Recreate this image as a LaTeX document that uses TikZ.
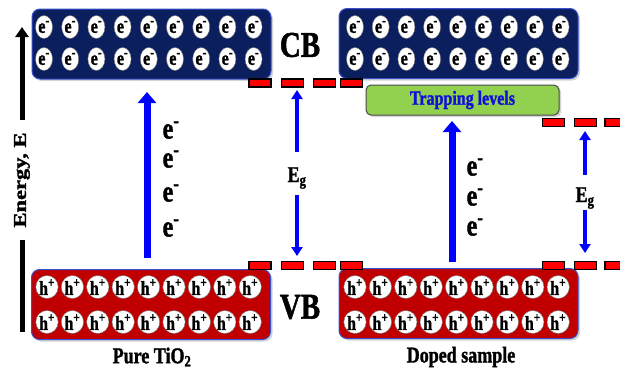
\documentclass[tikz,border=0pt]{standalone}
\usepackage{fontspec}
\setmainfont{Liberation Serif}[BoldFeatures={FakeBold=1.6}]
\usetikzlibrary{arrows.meta,shadows,shapes.geometric}
\definecolor{cbnavy}{HTML}{0B1F5E}
\definecolor{vbred}{HTML}{C00000}
\definecolor{bandedge}{HTML}{3A4FD0}
\definecolor{trapgreen}{HTML}{92D050}
\definecolor{trapedge}{HTML}{4A4A4A}
\definecolor{arrowblue}{HTML}{0000FF}
\definecolor{traptext}{HTML}{1010D8}
% glyphs in this figure are drawn somewhat taller than wide
\newcommand{\tall}[1]{\scalebox{1}[1.25]{#1}}
\newcommand{\fsz}[1]{\bfseries\fontsize{#1}{#1}\selectfont}

\begin{document}
\begin{tikzpicture}[x=1pt,y=-1pt,
  band/.style={draw=bandedge, line width=1pt, rounded corners=8pt,
    minimum width=239pt, minimum height=70pt, inner sep=0pt,
    drop shadow={shadow xshift=2pt,shadow yshift=-2pt,opacity=0.35}},
  cbband/.style={band, fill=cbnavy},
  vbband/.style={band, fill=vbred},
  carrier/.style={ellipse, fill=white, draw=black!55, line width=0.4pt,
    minimum width=17pt, minimum height=23pt, inner sep=0pt, font=\fsz{16}},
  dashbar/.style={draw=black, line width=1.3pt, fill=red,
    minimum width=22pt, minimum height=8pt, inner sep=0pt},
  bigarrow/.style={draw=arrowblue, line width=7pt,
    -{Triangle[width=18pt,length=11pt]}},
  egarrow/.style={draw=arrowblue, line width=4pt,
    -{Triangle[width=11pt,length=9pt]}},
  axisline/.style={draw=black, line width=5pt},
  biglabel/.style={font=\fsz{29}, inner sep=0pt},
  caption/.style={font=\fsz{18}, inner sep=0pt},
  elabel/.style={font=\fsz{24}, inner sep=0pt},
  eglabel/.style={font=\fsz{18}, inner sep=0pt}
]
\useasboundingbox (0,0) rectangle (620,376);

% ---- bands ----
\node[cbband] (cbL) at (151.5,44) {};
\node[cbband] (cbR) at (458.5,43.5) {};
\node[vbband] (vbL) at (151,304.5) {};
\node[vbband] (vbR) at (458.5,303.5) {};

% electrons in the conduction bands
\foreach \i in {0,...,8} {
  \node[carrier] (eLa\i) at (44+26.2*\i,27) {\tall{e\textsuperscript{-}}};
  \node[carrier] (eLb\i) at (44+26.2*\i,59) {\tall{e\textsuperscript{-}}};
  \node[carrier] (eRa\i) at (355+25.7*\i,27) {\tall{e\textsuperscript{-}}};
  \node[carrier] (eRb\i) at (355+25.7*\i,59) {\tall{e\textsuperscript{-}}};
}
% holes in the valence bands
\foreach \i in {0,...,8} {
  \node[carrier] (hLa\i) at (47+25.4*\i,287) {\tall{h\textsuperscript{+}}};
  \node[carrier] (hLb\i) at (47+25.4*\i,322) {\tall{h\textsuperscript{+}}};
  \node[carrier] (hRa\i) at (355+25.4*\i,287) {\tall{h\textsuperscript{+}}};
  \node[carrier] (hRb\i) at (355+25.4*\i,322) {\tall{h\textsuperscript{+}}};
}

% ---- trapping levels ----
\node[draw=trapedge, line width=1pt, fill=trapgreen, rounded corners=5pt,
      minimum width=193pt, minimum height=30pt, inner sep=0pt,
      drop shadow={shadow xshift=2pt,shadow yshift=-2pt,opacity=0.35},
      font=\fsz{16}, text=traptext] (trap) at (462.5,100) {\tall{Trapping levels}};

% ---- band-edge dashes ----
\foreach \x [count=\k] in {260,292.5,324.5,351.5} {
  \node[dashbar] (cdL\k) at (\x,83) {};
  \node[dashbar] (vdL\k) at (\x,265.5) {};
}
\foreach \x [count=\k] in {553.5,585.5,616} {
  \node[dashbar] (cdR\k) at (\x,122.5) {};
  \node[dashbar] (vdR\k) at (\x,265.5) {};
}

% ---- labels ----
\node[biglabel] (cb) at (300,45) {\tall{CB}};
\node[biglabel] (vb) at (300,307) {\tall{VB}};
\node[caption] (capL) at (152,357) {\tall{Pure TiO\textsubscript{2}}};
\node[caption] (capR) at (461,357) {\tall{Doped sample}};

% ---- energy axis ----
\coordinate (axA) at (22,120);
\coordinate (axB) at (22,27);
\coordinate (axC) at (22,240);
\coordinate (axD) at (22,332);
\draw[axisline, -{Triangle[width=13pt,length=10pt]}] (axA) -- (axB);
\draw[axisline] (axC) -- (axD);
\node[font=\fsz{18}, rotate=90, inner sep=0pt] (energy) at (22,180)
  {\scalebox{1.25}[1]{Energy, E}};

% ---- excitation arrows ----
\coordinate (exL0) at (147,258);
\coordinate (exL1) at (147,92);
\draw[bigarrow] (exL0) -- (exL1);
\coordinate (exR0) at (452,262);
\coordinate (exR1) at (452,121);
\draw[bigarrow] (exR0) -- (exR1);

\foreach \y [count=\k] in {130,159,193,228}
  \node[elabel] (eL\k) at (171,\y) {\tall{e\textsuperscript{-}}};
\foreach \y [count=\k] in {167,197,227}
  \node[elabel] (eR\k) at (475,\y) {\tall{e\textsuperscript{-}}};

% ---- band-gap arrows ----
\node[eglabel] (egL) at (297,178) {\tall{E\textsubscript{g}}};
\node[eglabel] (egR) at (585,198) {\tall{E\textsubscript{g}}};
\coordinate (gLtop) at (297,90);
\coordinate (gLbot) at (297,256);
\coordinate (gRtop) at (585,131);
\coordinate (gRbot) at (585,253);
\draw[egarrow] (egL.north |- 0,152) -- (gLtop);
\draw[egarrow] (egL.south |- 0,195) -- (gLbot);
\draw[egarrow] (egR.north |- 0,175) -- (gRtop);
\draw[egarrow] (egR.south |- 0,210) -- (gRbot);
\end{tikzpicture}
\end{document}
